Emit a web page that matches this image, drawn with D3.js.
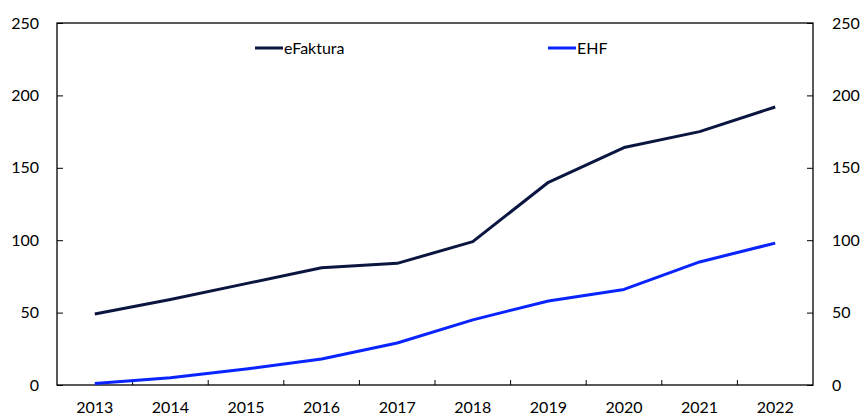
<!DOCTYPE html>
<html lang="en">
<head>
    <meta charset="UTF-8">
    <title>eFaktura og EHF</title>
    <script src="https://cdn.jsdelivr.net/npm/d3@7"></script>
    <style>
        body { margin: 0; background: #fff; }
        text { font-family: Lato, "Open Sans", sans-serif; font-size: 16px; fill: #000; }
    </style>
</head>
<body>
<script>
    var years = ["2013", "2014", "2015", "2016", "2017", "2018", "2019", "2020", "2021", "2022"];
    var eFaktura = [49, 59, 70, 81, 84, 99, 140, 164, 175, 192];
    var ehf = [1, 5, 11, 18, 29, 45, 58, 66, 85, 98];
    var yTicks = [0, 50, 100, 150, 200, 250];

    var width = 864, height = 416;
    var plotLeft = 57, plotRight = 813, plotTop = 23, plotBottom = 385;

    var svg = d3.select("body").append("svg")
        .attr("width", width)
        .attr("height", height);

    var x = d3.scaleBand().domain(years).range([plotLeft, plotRight]);
    var y = d3.scaleLinear().domain([0, 250]).range([plotBottom, plotTop]);

    // frame
    svg.append("rect")
        .attr("x", plotLeft).attr("y", plotTop)
        .attr("width", plotRight - plotLeft).attr("height", plotBottom - plotTop)
        .attr("fill", "none").attr("stroke", "#000").attr("stroke-width", 1.3);

    // left axis, ticks inward
    var yl = svg.append("g").attr("transform", "translate(" + plotLeft + ",0)")
        .call(d3.axisRight(y).tickValues(yTicks).tickSize(6).tickFormat(""));
    yl.select(".domain").remove();
    svg.selectAll(".ylab").data(yTicks).enter().append("text")
        .attr("x", 39).attr("y", d => y(d)).attr("dy", "0.35em")
        .attr("text-anchor", "end").text(d => d);

    // right axis, ticks inward
    var yr = svg.append("g").attr("transform", "translate(" + plotRight + ",0)")
        .call(d3.axisLeft(y).tickValues(yTicks).tickSize(6).tickFormat(""));
    yr.select(".domain").remove();
    svg.selectAll(".yrlab").data(yTicks).enter().append("text")
        .attr("x", 832).attr("y", d => y(d)).attr("dy", "0.35em")
        .attr("text-anchor", "start").text(d => d);

    // x ticks at band boundaries, pointing up
    var bounds = years.slice(1).map(d => x(d));
    svg.selectAll(".xtick").data(bounds).enter().append("line")
        .attr("x1", d => d).attr("x2", d => d)
        .attr("y1", plotBottom).attr("y2", plotBottom - 5)
        .attr("stroke", "#000").attr("stroke-width", 1);
    svg.selectAll(".xlab").data(years).enter().append("text")
        .attr("x", d => x(d) + x.bandwidth() / 2).attr("y", 407)
        .attr("dy", "0.35em").attr("text-anchor", "middle").text(d => d);

    svg.selectAll(".tick line").attr("stroke", "#000").attr("stroke-width", 1);

    var line = d3.line()
        .x((d, i) => x(years[i]) + x.bandwidth() / 2)
        .y(d => y(d));

    var series = [
        { name: "eFaktura", values: eFaktura, color: "#0b1640", lx: 255 },
        { name: "EHF", values: ehf, color: "#0a24ff", lx: 548 }
    ];

    series.forEach(function (s) {
        svg.append("path")
            .attr("d", line(s.values))
            .attr("fill", "none")
            .attr("stroke", s.color)
            .attr("stroke-width", 3)
            .attr("stroke-linejoin", "round");
        svg.append("line")
            .attr("x1", s.lx).attr("x2", s.lx + 28)
            .attr("y1", 48).attr("y2", 48)
            .attr("stroke", s.color).attr("stroke-width", 3);
        svg.append("text")
            .attr("x", s.lx + 29).attr("y", 48).attr("dy", "0.35em")
            .text(s.name);
    });
</script>
</body>
</html>
